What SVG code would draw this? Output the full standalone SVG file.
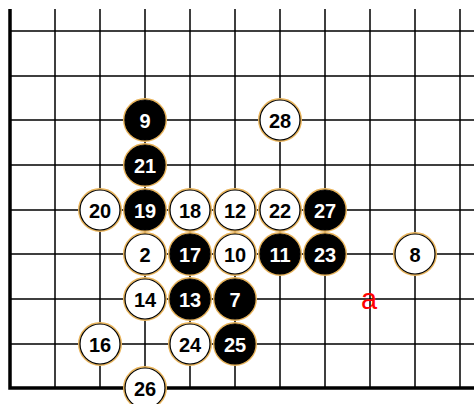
<svg xmlns="http://www.w3.org/2000/svg" width="474" height="404" viewBox="0 0 474 404">
<style>
.g{stroke:#000;stroke-width:1.5;fill:none}
.b{stroke:#000;stroke-width:3.5;fill:none}
.ring{fill:none;stroke:#e8b45c;stroke-width:2}
.w circle.s{fill:#fff;stroke:#000;stroke-width:1.2}
.k circle.s{fill:#000;stroke:#000;stroke-width:1.2}
text{font-family:"Liberation Sans",Arial,sans-serif;font-weight:bold;font-size:20px;text-anchor:middle}
.w text{fill:#000}
.k text{fill:#fff}
.lbl{fill:#f00;font-weight:normal;font-size:29px}
</style>
<rect width="474" height="404" fill="#fff"/>
<g id="grid">
<path class="g" d="M55 9V388M100 9V388M145 9V388M190 9V388M235 9V388M280 9V388M325 9V388M370 9V388M415 9V388M460 9V388"/>
<path class="g" d="M10 31H474M10 76H474M10 120H474M10 165H474M10 210H474M10 254H474M10 299H474M10 344H474"/>
<path class="b" d="M10 9V388H474"/>
</g>
<g id="s9" class="k" transform="translate(145,120)"><circle class="ring" r="21"/><circle class="s" r="20"/><text y="7.5">9</text></g>
<g id="s28" class="w" transform="translate(280,120)"><circle class="ring" r="21"/><circle class="s" r="20"/><text y="7.5">28</text></g>
<g id="s21" class="k" transform="translate(145,165)"><circle class="ring" r="21"/><circle class="s" r="20"/><text y="7.5">21</text></g>
<g id="s20" class="w" transform="translate(100,210)"><circle class="ring" r="21"/><circle class="s" r="20"/><text y="7.5">20</text></g>
<g id="s19" class="k" transform="translate(145,210)"><circle class="ring" r="21"/><circle class="s" r="20"/><text y="7.5">19</text></g>
<g id="s18" class="w" transform="translate(190,210)"><circle class="ring" r="21"/><circle class="s" r="20"/><text y="7.5">18</text></g>
<g id="s12" class="w" transform="translate(235,210)"><circle class="ring" r="21"/><circle class="s" r="20"/><text y="7.5">12</text></g>
<g id="s22" class="w" transform="translate(280,210)"><circle class="ring" r="21"/><circle class="s" r="20"/><text y="7.5">22</text></g>
<g id="s27" class="k" transform="translate(325,210)"><circle class="ring" r="21"/><circle class="s" r="20"/><text y="7.5">27</text></g>
<g id="s2" class="w" transform="translate(145,254)"><circle class="ring" r="21"/><circle class="s" r="20"/><text y="7.5">2</text></g>
<g id="s17" class="k" transform="translate(190,254)"><circle class="ring" r="21"/><circle class="s" r="20"/><text y="7.5">17</text></g>
<g id="s10" class="w" transform="translate(235,254)"><circle class="ring" r="21"/><circle class="s" r="20"/><text y="7.5">10</text></g>
<g id="s11" class="k" transform="translate(280,254)"><circle class="ring" r="21"/><circle class="s" r="20"/><text y="7.5">11</text></g>
<g id="s23" class="k" transform="translate(325,254)"><circle class="ring" r="21"/><circle class="s" r="20"/><text y="7.5">23</text></g>
<g id="s8" class="w" transform="translate(415,254)"><circle class="ring" r="21"/><circle class="s" r="20"/><text y="7.5">8</text></g>
<g id="s14" class="w" transform="translate(145,299)"><circle class="ring" r="21"/><circle class="s" r="20"/><text y="7.5">14</text></g>
<g id="s13" class="k" transform="translate(190,299)"><circle class="ring" r="21"/><circle class="s" r="20"/><text y="7.5">13</text></g>
<g id="s7" class="k" transform="translate(235,299)"><circle class="ring" r="21"/><circle class="s" r="20"/><text y="7.5">7</text></g>
<g id="s16" class="w" transform="translate(100,344)"><circle class="ring" r="21"/><circle class="s" r="20"/><text y="7.5">16</text></g>
<g id="s24" class="w" transform="translate(190,344)"><circle class="ring" r="21"/><circle class="s" r="20"/><text y="7.5">24</text></g>
<g id="s25" class="k" transform="translate(235,344)"><circle class="ring" r="21"/><circle class="s" r="20"/><text y="7.5">25</text></g>
<g id="s26" class="w" transform="translate(145,388)"><circle class="ring" r="21"/><circle class="s" r="20"/><text y="7.5">26</text></g>
<g id="mark-a"><text class="lbl" x="369" y="309">a</text></g>
</svg>
